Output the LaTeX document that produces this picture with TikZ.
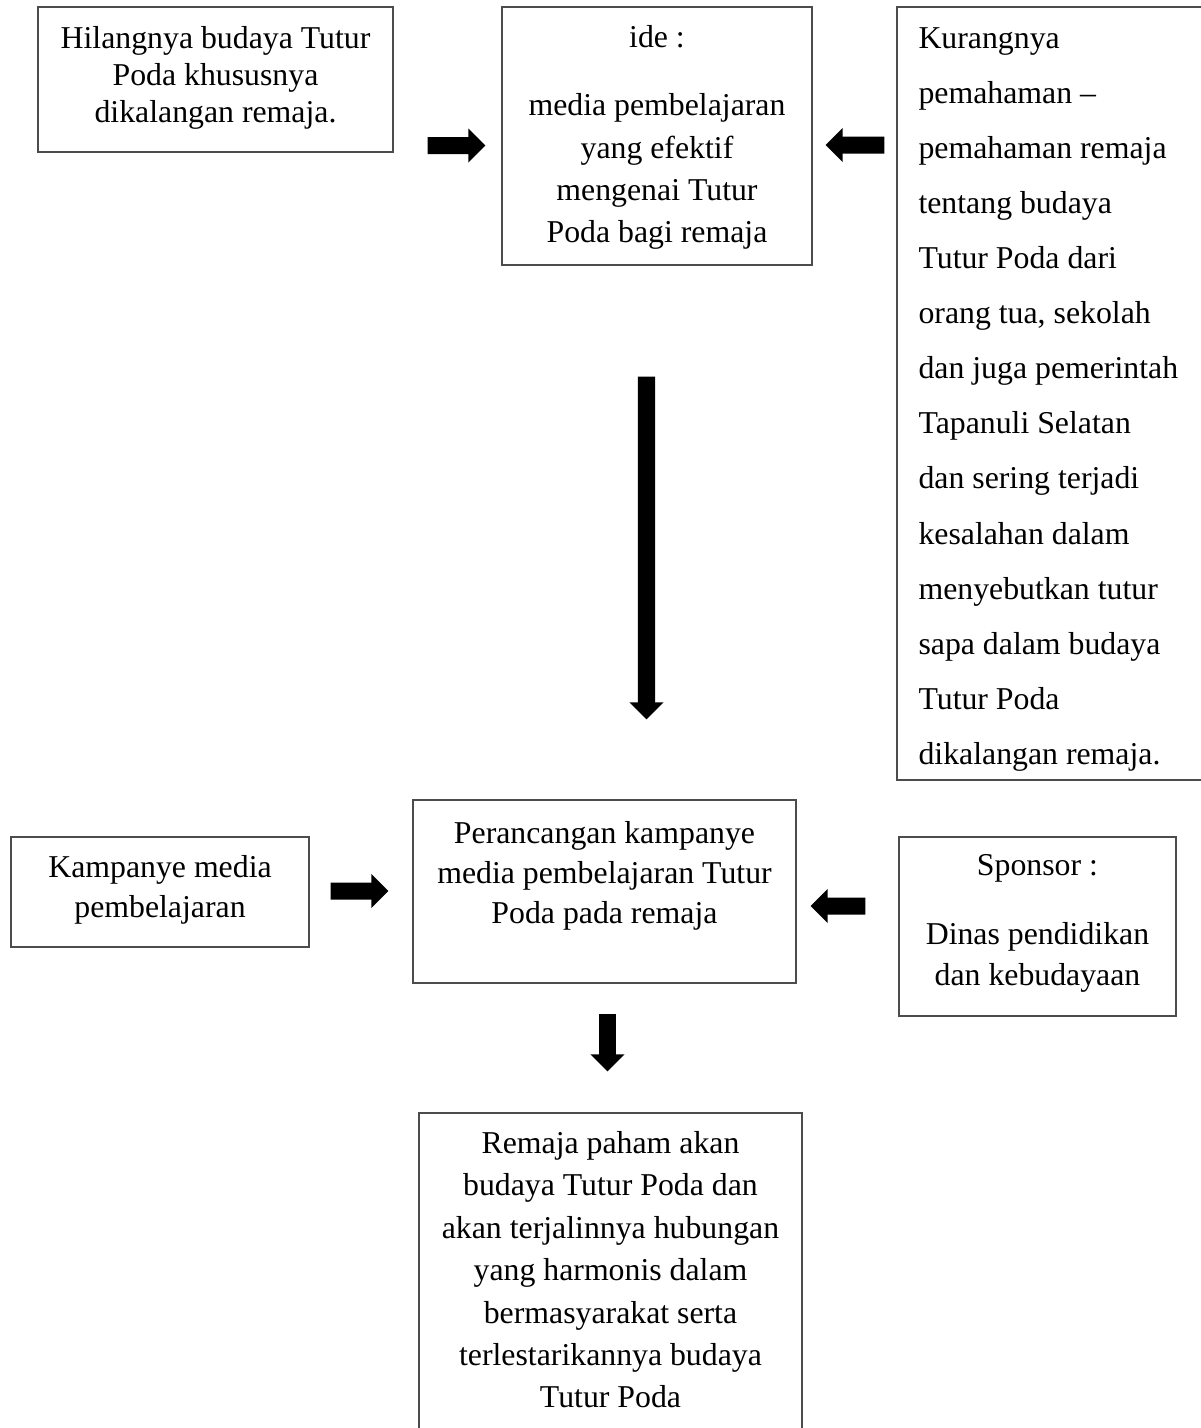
\documentclass[tikz,border=0pt]{standalone}
\usepackage{fontspec}
\setmainfont{Liberation Serif}
\usetikzlibrary{arrows.meta,fit}
\newdimen\pxu
\pxu=0.3774pt
\newcommand\fl{\rule{0pt}{10pt}}
\begin{document}
\begin{tikzpicture}[x=\pxu,y=-\pxu,
  box/.style={draw=black!70, line width=0.5pt, inner sep=0pt},
  txt/.style={inner sep=0pt, align=center, anchor=north},
  fs/.style={font={\fontsize{12pt}{#1}\selectfont}},
  barrow/.style={line width=6.42pt, -{Triangle[width=12.5pt,length=6.4pt]}}]
\useasboundingbox (0,0) rectangle (1201,1428);
% boxes
\node[box, fit={(38,7) (393,152)}] (A) {};
\node[box, fit={(502,7) (812,265)}] (B) {};
\node[box, fit={(897,7) (1215,780)}] (C) {};
\node[box, fit={(11,837) (309,947)}] (D) {};
\node[box, fit={(413,800) (796,983)}] (E) {};
\node[box, fit={(899,837) (1176,1016)}] (F) {};
\node[box, fit={(419,1113) (802,1445)}] (G) {};
% texts
\node[txt, fs=14pt] (At) at (215.5,21.5) {\fl Hilangnya budaya Tutur\\ Poda khususnya\\ dikalangan remaja.};
\node[txt, fs=16pt] (Bt) at (657,20.5) {\fl ide :\\[9.7pt] media pembelajaran\\ yang efektif\\ mengenai Tutur\\ Poda bagi remaja};
\node[txt, fs=20.8pt, align=left, anchor=north west] (Ct) at (918,21) {\fl Kurangnya\\ pemahaman –\\ pemahaman remaja\\ tentang budaya\\ Tutur Poda dari\\ orang tua, sekolah\\ dan juga pemerintah\\ Tapanuli Selatan\\ dan sering terjadi\\ kesalahan dalam\\ menyebutkan tutur\\ sapa dalam budaya\\ Tutur Poda\\ dikalangan remaja.};
\node[txt, fs=15.1pt] (Dt) at (160,850.5) {\fl Kampanye media\\ pembelajaran};
\node[txt, fs=15.1pt] (Et) at (604.5,816.5) {\fl Perancangan kampanye\\ media pembelajaran Tutur\\ Poda pada remaja};
\node[txt, fs=15.4pt] (Ft) at (1037.5,848.5) {\fl Sponsor :\\[10.7pt] Dinas pendidikan\\ dan kebudayaan};
\node[txt, fs=16pt] (Gt) at (610.5,1126.5) {\fl Remaja paham akan\\ budaya Tutur Poda dan\\ akan terjalinnya hubungan\\ yang harmonis dalam\\ bermasyarakat serta\\ terlestarikannya budaya\\ Tutur Poda};
% arrows
\draw[barrow] ([shift={(34,66)}]A.east) -- ([shift={(-16,9.5)}]B.west);
\draw[barrow] ([shift={(-12,-248.5)}]C.west) -- ([shift={(13,9)}]B.east);
\draw[barrow] ([shift={(-10.5,111)}]B.south) -- ([shift={(42,-80)}]E.north);
\draw[barrow] ([shift={(21,-1)}]D.east) -- ([shift={(-24,-0.5)}]E.west);
\draw[barrow] ([shift={(-33,-20.5)}]F.west) -- ([shift={(14,14.5)}]E.east);
\draw[barrow] ([shift={(3,30)}]E.south) -- ([shift={(-3,-41)}]G.north);
\end{tikzpicture}
\end{document}
